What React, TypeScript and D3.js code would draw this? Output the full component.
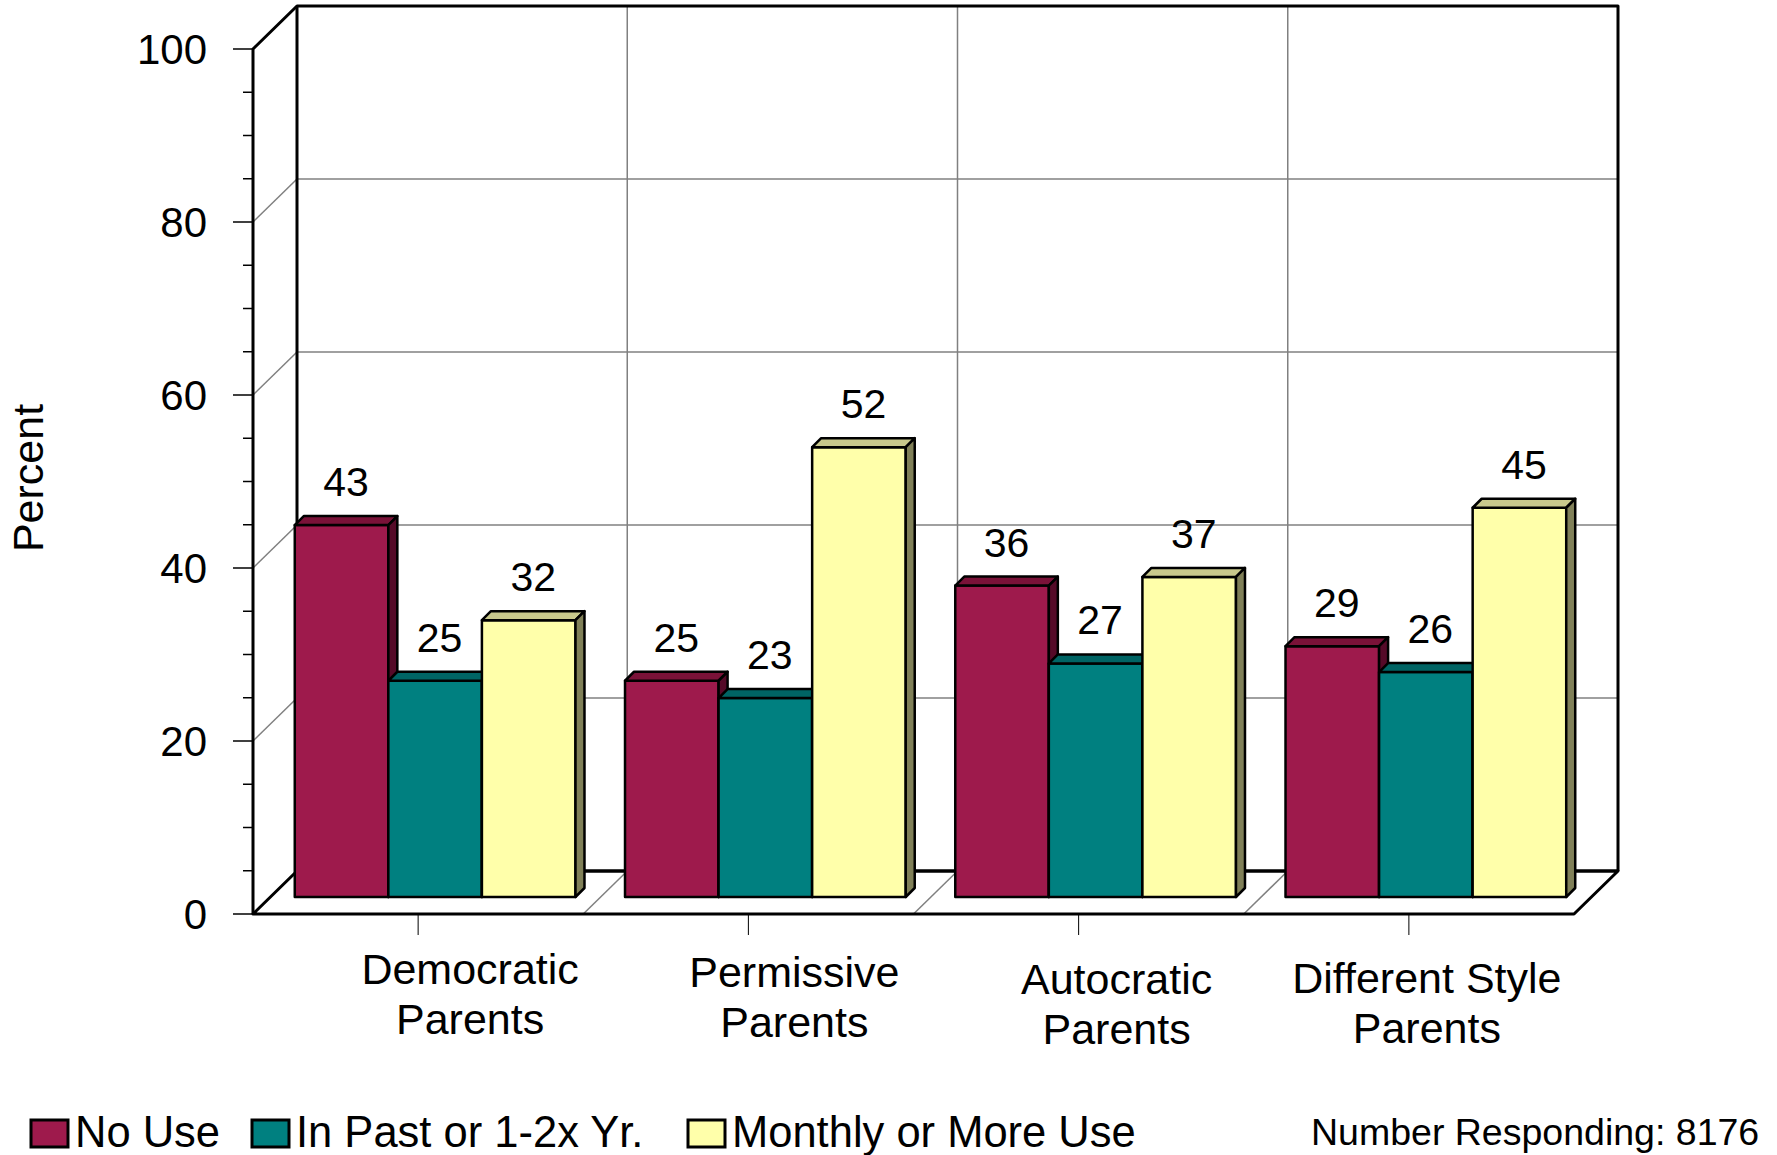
import React from "react";
import * as d3 from "d3";

const categories = ["Democratic Parents", "Permissive Parents", "Autocratic Parents", "Different Style Parents"];
const categoryLines = [["Democratic", "Parents"], ["Permissive", "Parents"], ["Autocratic", "Parents"], ["Different Style", "Parents"]];
const seriesNames = ["No Use", "In Past or 1-2x Yr.", "Monthly or More Use"];
const noUse = [43, 25, 36, 29];
const pastUse = [25, 23, 27, 26];
const monthlyUse = [32, 52, 37, 45];
const yTicks = [0, 20, 40, 60, 80, 100];
const respondents = 8176;

const FONT = "'Liberation Sans', Arial, Helvetica, sans-serif";
const W = 1777;
const H = 1155;

// front plane of the box, depth offset
const X0 = 253;
const X1 = 1574;
const DX = 44;
const DY = 43;
const BAR_DEPTH = 17; // bars sit this far into the box
const T = 9; // bar thickness

const colors = [
  { front: "#9E1A4C", top: "#7A1238", side: "#550A28" },
  { front: "#008080", top: "#006464", side: "#004D4D" },
  { front: "#FFFFAA", top: "#C8C88C", side: "#808058" },
];

// small manual nudges for the category labels (the 3D layout shifts them)
const labelDx = [52, 46, 38, 18];
const labelDy = [0, 3, 10, 9];

const App = () => {
  const series = [noUse, pastUse, monthlyUse];

  const y = d3.scaleLinear().domain([0, 100]).range([914, 49]);
  const x = d3.scaleBand<string>().domain(categories).range([X0, X1]).paddingInner(0.15).paddingOuter(0.075);
  const xs = d3.scaleBand<number>().domain(d3.range(series.length)).range([0, x.bandwidth()]);
  const step = x.step();

  const y0 = y(0);
  const y100 = y(100);
  const minor = d3.range(0, 101, 5);

  const gridGray = "#808080";

  return (
    <svg width={W} height={H} style={{ position: "absolute", left: 0, top: 0, display: "block", background: "#fff" }} fontFamily={FONT}>
      {/* back wall gridlines */}
      {yTicks.filter((t) => t > 0 && t < 100).map((t) => (
        <g key={"g" + t} stroke={gridGray} strokeWidth={1.5}>
          <line x1={X0} y1={y(t)} x2={X0 + DX} y2={y(t) - DY} />
          <line x1={X0 + DX} y1={y(t) - DY} x2={X1 + DX} y2={y(t) - DY} />
        </g>
      ))}
      {d3.range(1, categories.length).map((k) => (
        <g key={"v" + k} stroke={gridGray} strokeWidth={1.5}>
          <line x1={X0 + k * step + DX} y1={y0 - DY} x2={X0 + k * step + DX} y2={y100 - DY} />
          <line x1={X0 + k * step} y1={y0} x2={X0 + k * step + DX} y2={y0 - DY} />
        </g>
      ))}

      {/* box edges */}
      <g stroke="#000" strokeWidth={3} fill="none" strokeLinejoin="round">
        <polyline points={`${X0},${y0} ${X0},${y100} ${X0 + DX},${y100 - DY} ${X1 + DX},${y100 - DY} ${X1 + DX},${y0 - DY}`} />
        <line x1={X0 + DX} y1={y100 - DY} x2={X0 + DX} y2={y0 - DY} />
        <line x1={X0 + DX} y1={y0 - DY} x2={X1 + DX} y2={y0 - DY} />
        <polygon points={`${X0},${y0} ${X0 + DX},${y0 - DY} ${X1 + DX},${y0 - DY} ${X1},${y0}`} />
      </g>

      {/* y ticks */}
      {minor.map((t) => (
        <line key={"t" + t} x1={X0 - (t % 20 === 0 ? 20 : 10)} x2={X0} y1={y(t)} y2={y(t)} stroke="#000" strokeWidth={1.5} />
      ))}
      {yTicks.map((t) => (
        <text key={"l" + t} x={207} y={y(t)} dy="0.35em" textAnchor="end" fontSize={42}>{t}</text>
      ))}
      <text transform={`translate(43,478) rotate(-90)`} textAnchor="middle" fontSize={43}>Percent</text>

      {/* category ticks and labels */}
      {categories.map((c, i) => {
        const cx = X0 + (i + 0.5) * step;
        return (
          <g key={c}>
            <line x1={cx} x2={cx} y1={y0} y2={y0 + 21} stroke="#000" strokeWidth={1} />
            {categoryLines[i].map((ln, j) => (
              <text key={j} x={cx + labelDx[i]} y={984 + labelDy[i] + j * 50} textAnchor="middle" fontSize={43}>{ln}</text>
            ))}
          </g>
        );
      })}

      {/* bars */}
      {categories.map((c, i) => (
        <g key={"b" + c}>
          {series.map((vals, s) => {
            const v = vals[i];
            const bx = (x(c) as number) + (xs(s) as number) + BAR_DEPTH;
            const bw = xs.bandwidth();
            const yt = y(v) - BAR_DEPTH;
            const yb = y0 - BAR_DEPTH;
            const col = colors[s];
            return (
              <g key={s} stroke="#000" strokeWidth={2.5} strokeLinejoin="round">
                <rect x={bx} y={yt} width={bw} height={yb - yt} fill={col.front} />
                <polygon points={`${bx},${yt} ${bx + T},${yt - T} ${bx + bw + T},${yt - T} ${bx + bw},${yt}`} fill={col.top} />
                <polygon points={`${bx + bw},${yt} ${bx + bw + T},${yt - T} ${bx + bw + T},${yb - T} ${bx + bw},${yb}`} fill={col.side} />
              </g>
            );
          })}
        </g>
      ))}
      {categories.map((c, i) => (
        <g key={"d" + c}>
          {series.map((vals, s) => {
            const v = vals[i];
            const bx = (x(c) as number) + (xs(s) as number) + BAR_DEPTH;
            const yt = y(v) - BAR_DEPTH;
            return (
              <text key={s} x={bx + xs.bandwidth() / 2 + T / 2} y={yt - T - 20} textAnchor="middle" fontSize={41}>{v}</text>
            );
          })}
        </g>
      ))}

      {/* legend */}
      {seriesNames.map((n, s) => {
        const lx = [31, 252, 688][s];
        return (
          <g key={n}>
            <rect x={lx} y={1120} width={37} height={27} fill={colors[s].front} stroke="#000" strokeWidth={3} />
            <text x={lx + 44} y={1147} fontSize={43.5}>{n}</text>
          </g>
        );
      })}
      <text x={1311} y={1145} fontSize={37.5}>Number Responding: {respondents}</text>
    </svg>
  );
};

export default App;
